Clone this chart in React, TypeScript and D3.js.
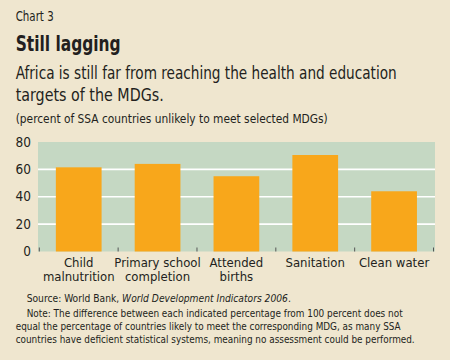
import React, { useRef, useEffect } from "react";
import * as d3 from "d3";

const categories = [
  ["Child", "malnutrition"],
  ["Primary school", "completion"],
  ["Attended", "births"],
  ["Sanitation"],
  ["Clean water"],
];
const values = [61.5, 64, 55, 70.5, 44];
const yTicks = [0, 20, 40, 60, 80];

const FONT = "'Liberation Sans Narrow', 'DejaVu Sans Condensed', 'Arial Narrow', sans-serif";

const App = () => {
  const svgRef = useRef<SVGSVGElement>(null);

  useEffect(() => {
    const width = 450;
    const height = 360;
    const plot = { left: 38, right: 435, top: 142, bottom: 251.5 };

    const svg = d3.select(svgRef.current).attr("width", width).attr("height", height);
    svg.selectAll("*").remove();

    svg.append("rect").attr("width", width).attr("height", height).attr("fill", "#efe6cf");

    const text = (x: number, y: number, s: string, size: number, opts: any = {}) => {
      const t = svg
        .append("text")
        .attr("x", x)
        .attr("y", y)
        .attr("font-family", FONT)
        .attr("font-size", size)
        .attr("fill", "#231f20")
        .text(s);
      if (opts.weight) t.attr("font-weight", opts.weight);
      if (opts.len) t.attr("textLength", opts.len).attr("lengthAdjust", "spacingAndGlyphs");
      if (opts.anchor) t.attr("text-anchor", opts.anchor);
      return t;
    };

    // header
    text(15.7, 20.7, "Chart 3", 13.5, { len: 38 });
    text(15.7, 51, "Still lagging", 21, { weight: "bold", len: 105 });
    text(15.7, 78.7, "Africa is still far from reaching the health and education", 17, { len: 381 });
    text(15.7, 101, "targets of the MDGs.", 17, { len: 148 });
    text(15.7, 123.3, "(percent of SSA countries unlikely to meet selected MDGs)", 12, { len: 312 });

    const x = d3
      .scaleBand()
      .domain(categories.map((c) => c.join(" ")))
      .range([39.3, 433.5])
      .paddingInner(0.42)
      .paddingOuter(0.21);

    const y = d3.scaleLinear().domain([0, 80]).range([plot.bottom, plot.top]);

    svg
      .append("rect")
      .attr("x", plot.left)
      .attr("y", plot.top)
      .attr("width", plot.right - plot.left)
      .attr("height", plot.bottom - plot.top)
      .attr("fill", "#c5d8c3");

    // gridlines
    svg
      .selectAll(".grid")
      .data(yTicks.filter((t) => t > 0 && t < 80))
      .enter()
      .append("line")
      .attr("x1", plot.left)
      .attr("x2", plot.right)
      .attr("y1", (d) => y(d))
      .attr("y2", (d) => y(d))
      .attr("stroke", "#ffffff")
      .attr("stroke-width", 1.6);

    // y labels
    yTicks.forEach((t) => {
      text(31, y(t) + 4.5, String(t), 13.5, { anchor: "end" });
    });

    // bars
    svg
      .selectAll(".bar")
      .data(values)
      .enter()
      .append("rect")
      .attr("x", (_, i) => x(categories[i].join(" "))!)
      .attr("y", (d) => y(d))
      .attr("width", x.bandwidth())
      .attr("height", (d) => plot.bottom - y(d))
      .attr("fill", "#f8a71b");

    // x ticks at band boundaries
    const step = x.step();
    d3.range(categories.length + 1).forEach((i) => {
      const xx = 39.3 + i * step;
      svg
        .append("line")
        .attr("x1", xx)
        .attr("x2", xx)
        .attr("y1", plot.bottom - 4)
        .attr("y2", plot.bottom)
        .attr("stroke", "#555")
        .attr("stroke-width", 1);
    });

    // x labels
    categories.forEach((c, i) => {
      const cx = x(c.join(" "))! + x.bandwidth() / 2;
      c.forEach((line, j) => {
        text(cx, 266.7 + j * 14, line, 13, { anchor: "middle" });
      });
    });

    // footer
    const src = svg
      .append("text")
      .attr("x", 26.7)
      .attr("y", 302.3)
      .attr("font-family", FONT)
      .attr("font-size", 10.2)
      .attr("fill", "#231f20");
    src.append("tspan").text("Source: World Bank, ");
    src.append("tspan").attr("font-style", "italic").text("World Development Indicators 2006");
    src.append("tspan").text(".");

    text(26.7, 316.7, "Note: The difference between each indicated percentage from 100 percent does not", 10.4, { len: 376 });
    text(15.7, 330, "equal the percentage of countries likely to meet the corresponding MDG, as many SSA", 10.4, { len: 385 });
    text(15.7, 343.3, "countries have deficient statistical systems, meaning no assessment could be performed.", 10.4, { len: 399 });
  }, []);

  return (
    <svg
      ref={svgRef}
      style={{ position: "absolute", left: 0, top: 0, display: "block" }}
    ></svg>
  );
};

export default App;
